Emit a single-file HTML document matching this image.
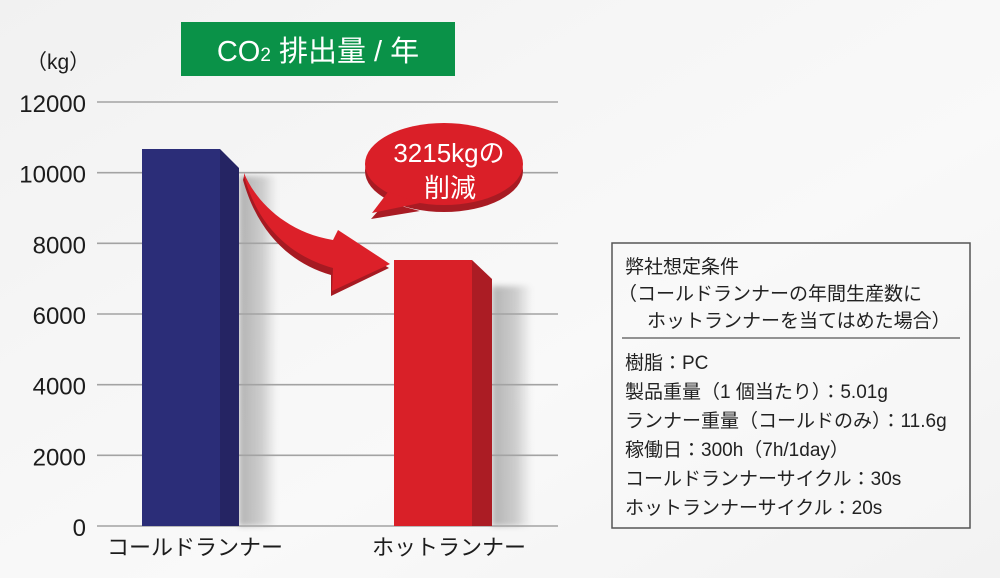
<!DOCTYPE html>
<html>
<head>
<meta charset="utf-8">
<style>
  html, body { margin: 0; padding: 0; width: 1000px; height: 578px; overflow: hidden; background: #f4f4f4; }
  svg { display: block; }
  text { font-family: "Liberation Sans", "Noto Sans CJK JP", sans-serif; }
</style>
</head>
<body>
<svg width="1000" height="578" viewBox="0 0 1000 578" xmlns="http://www.w3.org/2000/svg">
  <defs>
    <linearGradient id="bg" x1="0" y1="0" x2="1" y2="1">
      <stop offset="0" stop-color="#f1f1f1"/>
      <stop offset="0.35" stop-color="#f6f6f6"/>
      <stop offset="0.6" stop-color="#f9f9f9"/>
      <stop offset="1" stop-color="#f2f2f2"/>
    </linearGradient>
    <linearGradient id="shd" x1="0" y1="0" x2="1" y2="0">
      <stop offset="0" stop-color="#000" stop-opacity="0.28"/>
      <stop offset="0.6" stop-color="#000" stop-opacity="0.17"/>
      <stop offset="1" stop-color="#000" stop-opacity="0"/>
    </linearGradient>
    <filter id="blur" x="-20%" y="-20%" width="140%" height="140%">
      <feGaussianBlur stdDeviation="3"/>
    </filter>
  </defs>

  <rect x="0" y="0" width="1000" height="578" fill="url(#bg)"/>

  <!-- bar shadows -->
  <rect x="239" y="176" width="38" height="350" fill="url(#shd)" filter="url(#blur)"/>
  <rect x="492" y="286" width="40" height="240" fill="url(#shd)" filter="url(#blur)"/>

  <!-- gridlines -->
  <g stroke="#a3a3a3" stroke-width="1.6">
    <line x1="97" y1="102" x2="558" y2="102"/>
    <line x1="97" y1="172.7" x2="558" y2="172.7"/>
    <line x1="97" y1="243.3" x2="558" y2="243.3"/>
    <line x1="97" y1="314" x2="558" y2="314"/>
    <line x1="97" y1="384.7" x2="558" y2="384.7"/>
    <line x1="97" y1="455.3" x2="558" y2="455.3"/>
    <line x1="97" y1="526" x2="558" y2="526"/>
  </g>

  <!-- y labels -->
  <g font-size="24" fill="#1c1c1c" text-anchor="end">
    <text x="86" y="112">12000</text>
    <text x="86" y="182.7">10000</text>
    <text x="86" y="253.3">8000</text>
    <text x="86" y="324">6000</text>
    <text x="86" y="394.7">4000</text>
    <text x="86" y="465.3">2000</text>
    <text x="86" y="536">0</text>
  </g>
  <text x="26" y="69" font-size="21" fill="#1c1c1c">（kg）</text>

  <!-- title -->
  <rect x="181" y="22" width="274" height="54" fill="#0a9248"/>
  <text x="318" y="61" font-size="29" fill="#ffffff" text-anchor="middle">CO<tspan font-size="19">2</tspan> 排出量 / 年</text>

  <!-- blue bar -->
  <rect x="142" y="149" width="78" height="377" fill="#2b2d78"/>
  <polygon points="220,149 239,168 239,526 220,526" fill="#252463"/>

  <!-- red bar -->
  <rect x="394" y="260" width="78" height="266" fill="#d92028"/>
  <polygon points="472,260 492,279 492,526 472,526" fill="#ab1c24"/>

  <!-- arrow (3D side) -->
  <path d="M244,176 C255,203 285,235 331,246 L336,236 L389,268 L331,296 L331,275 C290,263 258,233 243,180 Z" fill="#a61a22"/>
  <!-- arrow face -->
  <path d="M244,173 C255,200 285,232 333,240 L338,230 L390,264 L332,291 L333,268 C290,256 258,226 244,176 Z" fill="#dc2029"/>

  <!-- bubble thickness -->
  <ellipse cx="444" cy="171" rx="79" ry="41" fill="#a81b23"/>
  <polygon points="386,202 371,219 420,211" fill="#a81b23"/>
  <!-- bubble face -->
  <ellipse cx="444" cy="164" rx="79" ry="41" fill="#da1f28"/>
  <polygon points="388,192 372,213 420,203" fill="#da1f28"/>
  <text x="449" y="162" font-size="26" fill="#ffffff" text-anchor="middle">3215kgの</text>
  <text x="450" y="197" font-size="26" fill="#ffffff" text-anchor="middle">削減</text>

  <!-- x labels -->
  <text x="107" y="555" font-size="22" fill="#1c1c1c">コールドランナー</text>
  <text x="372" y="555" font-size="22" fill="#1c1c1c">ホットランナー</text>

  <!-- info box -->
  <rect x="612" y="243" width="358" height="285" fill="#f8f8f8" fill-opacity="0.6" stroke="#555555" stroke-width="1.5"/>
  <line x1="622" y1="338" x2="960" y2="338" stroke="#555555" stroke-width="1.3"/>
  <g font-size="19" fill="#222222">
    <text x="625" y="273">弊社想定条件</text>
    <text x="618" y="300">（コールドランナーの年間生産数に</text>
    <text x="647" y="327">ホットランナーを当てはめた場合）</text>
    <text x="625" y="369">樹脂：PC</text>
    <text x="625" y="398">製品重量（1 個当たり）：5.01g</text>
    <text x="625" y="427">ランナー重量（コールドのみ）：11.6g</text>
    <text x="625" y="456">稼働日：300h（7h/1day）</text>
    <text x="625" y="485">コールドランナーサイクル：30s</text>
    <text x="625" y="514">ホットランナーサイクル：20s</text>
  </g>
</svg>
</body>
</html>
